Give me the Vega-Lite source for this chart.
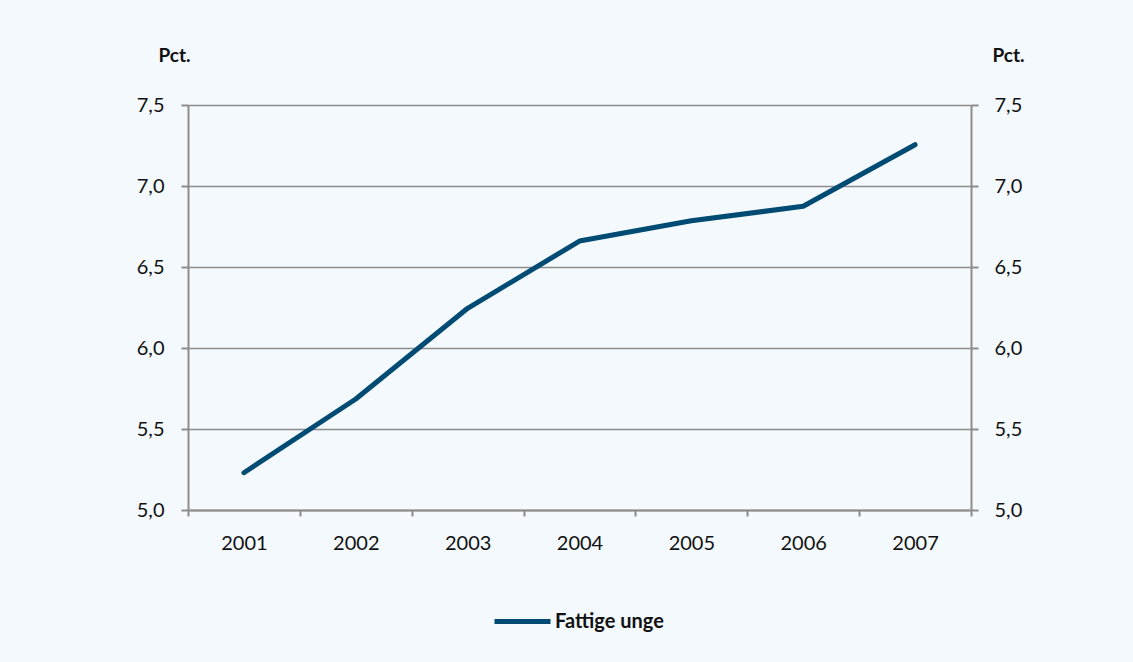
{
  "$schema": "https://vega.github.io/schema/vega-lite/v6.json",
  "width": 783,
  "height": 405,
  "autosize": {"type": "none"},
  "padding": {"left": 188, "top": 105, "right": 162, "bottom": 152},
  "background": "#F4F9FD",
  "config": {
    "locale": {"number": {"decimal": ",", "thousands": ".", "grouping": [3], "currency": ["", " kr"]}},
    "view": {"stroke": null},
    "font": "Lato",
    "axis": {"labelFont": "Lato", "labelFontSize": 20, "labelColor": "#111111", "titleFont": "Lato", "titleFontSize": 19, "titleFontWeight": "bold", "titleColor": "#111111"}
  },
  "data": {"values": [
    {"year": "2001", "value": 5.23, "series": "Fattige unge"},
    {"year": "2002", "value": 5.685, "series": "Fattige unge"},
    {"year": "2003", "value": 6.245, "series": "Fattige unge"},
    {"year": "2004", "value": 6.66, "series": "Fattige unge"},
    {"year": "2005", "value": 6.785, "series": "Fattige unge"},
    {"year": "2006", "value": 6.875, "series": "Fattige unge"},
    {"year": "2007", "value": 7.255, "series": "Fattige unge"}
  ]},
  "layer": [
    {
      "mark": {"type": "line", "strokeWidth": 5, "strokeCap": "round", "strokeJoin": "round"},
      "encoding": {
        "x": {"field": "year", "type": "ordinal", "scale": {"type": "band", "paddingInner": 0, "paddingOuter": 0},
          "axis": {"title": null, "labelAngle": 0, "domainColor": "#8C8C8C", "domainWidth": 2, "tickColor": "#8C8C8C", "tickWidth": 2, "tickSize": 6, "tickBand": "extent", "labelPadding": 17, "grid": false}},
        "y": {"field": "value", "type": "quantitative", "scale": {"domain": [5, 7.5], "nice": false, "zero": false},
          "axis": {"title": "Pct.", "titleAngle": 0, "titleX": -14, "titleY": -50, "titleAlign": "center", "titleBaseline": "middle", "values": [5, 5.5, 6, 6.5, 7, 7.5], "format": ".1f", "grid": true, "gridColor": "#8C8C8C", "gridWidth": 1.5, "domainColor": "#8C8C8C", "domainWidth": 2, "tickColor": "#8C8C8C", "tickWidth": 2, "tickSize": 7, "labelPadding": 17}},
        "color": {"field": "series", "type": "nominal", "scale": {"range": ["#004B74"]},
          "legend": {"title": null, "orient": "none", "legendX": 304, "legendY": 486, "direction": "horizontal", "symbolType": "stroke", "symbolSize": 3136, "symbolStrokeWidth": 5, "symbolStrokeColor": "#004B74", "labelFont": "Lato", "labelFontSize": 20, "labelFontWeight": "bold", "labelColor": "#111111", "labelOffset": 2}}
      }
    },
    {
      "mark": {"type": "line", "opacity": 0},
      "encoding": {
        "x": {"field": "year", "type": "ordinal"},
        "y": {"field": "value", "type": "quantitative",
          "axis": {"orient": "right", "title": "Pct.", "titleAngle": 0, "titleX": 37, "titleY": -50, "titleAlign": "center", "titleBaseline": "middle", "values": [5, 5.5, 6, 6.5, 7, 7.5], "format": ".1f", "grid": false, "domainColor": "#8C8C8C", "domainWidth": 2, "tickColor": "#8C8C8C", "tickWidth": 2, "tickSize": 7, "labelPadding": 16}}
      }
    }
  ],
  "resolve": {"axis": {"y": "independent"}}
}
